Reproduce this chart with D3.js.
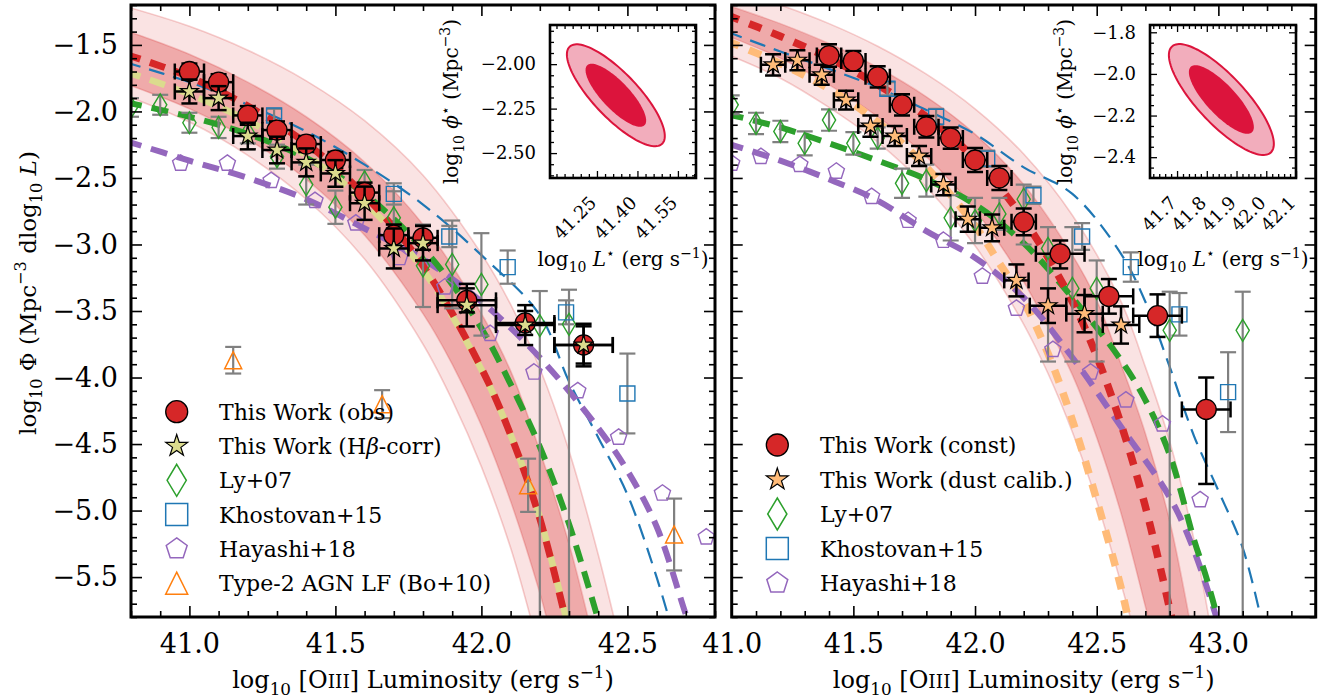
<!DOCTYPE html>
<html><head><meta charset="utf-8">
<script src="https://cdn.jsdelivr.net/npm/d3@7"></script>
<style>
html,body{margin:0;padding:0;background:#fff;}
svg{display:block;}
</style></head>
<body>
<svg id="chart" width="1330" height="699"></svg>
<script>
// ======================= DATA =======================
// ---- shared axis ticks ----
const yMajorTicks = [-1.5,-2.0,-2.5,-3.0,-3.5,-4.0,-4.5,-5.0,-5.5];
const xMajorTicksLeft = [41.0,41.5,42.0,42.5];
const xMajorTicksRight = [41.0,41.5,42.0,42.5,43.0];

// ---- LEFT panel: This Work (obs) and (Hbeta-corr) ----
const obsL       = [41.0,41.1,41.2,41.3,41.4,41.5,41.6,41.7,41.8,41.95,42.15,42.35];
const obsLogPhi  = [-1.70,-1.78,-2.03,-2.14,-2.245,-2.365,-2.61,-2.93,-2.95,-3.42,-3.59,-3.755];
const obsErr     = [0.06,0.06,0.07,0.065,0.06,0.06,0.075,0.08,0.09,0.09,0.09,0.14];
const obsLErr    = [0.05,0.05,0.05,0.05,0.05,0.05,0.05,0.05,0.05,0.1,0.1,0.1];
const hbLogPhi   = [-1.85,-1.90,-2.185,-2.29,-2.383,-2.466,-2.69,-3.03,-2.99,-3.456,-3.606,-3.756];
const hbErr      = [0.09,0.09,0.10,0.10,0.105,0.10,0.125,0.15,0.13,0.16,0.15,0.16];

// ---- LEFT panel: literature ----
const ly07L_left   = [40.8,40.9,41.0,41.1,41.2,41.3,41.4,41.5,41.6,41.7,41.8,41.9,42.0,42.2,42.3];
const ly07Phi_left = [-1.97,-1.95,-2.085,-2.12,-2.16,-2.34,-2.55,-2.72,-2.53,-2.80,-3.16,-3.15,-3.30,-3.61,-3.60];
const ly07Up_left  = [0.07,0.075,0.075,0.08,0.08,0.09,0.15,0.125,0.09,0.2,0.31,0.33,0.385,0.26,0.26];
const ly07Dn_left  = [0.07,0.075,0.075,0.08,0.08,0.09,0.15,0.125,0.09,0.2,0.31,0.33,0.385,3.0,3.0];
const kh15L_left   = [41.29,41.70,41.89,42.09,42.29,42.50];
const kh15Phi_left = [-2.03,-2.62,-2.94,-3.17,-3.51,-4.12];
const kh15Err_left = [0.05,0.08,0.08,0.125,0.09,0.30];
const hy18L_left   = [40.97,41.13,41.28,41.43,41.57,41.72,41.875,42.03,42.18,42.33,42.47,42.62,42.77];
const hy18Phi_left = [-2.39,-2.39,-2.52,-2.67,-2.84,-3.10,-3.32,-3.67,-3.96,-4.10,-4.45,-4.87,-5.20];
const bo10L   = [41.15,41.66,42.16,42.66];
const bo10Phi = [-3.87,-4.20,-4.81,-5.18];
const bo10Err = [0.10,0.105,0.20,0.27];

// ---- LEFT panel: fitted curves ----
const fitObsL_left   = [40.78,41.0,41.2,41.4,41.6,41.8,42.0,42.1,42.2,42.3];
const fitObsPhi_left = [-1.57,-1.74,-1.96,-2.24,-2.63,-3.16,-3.93,-4.43,-5.06,-5.92];
const fitHbL_left    = [40.78,41.0,41.2,41.4,41.6,41.8,42.0,42.1,42.2,42.3];
const fitHbPhi_left  = [-1.70,-1.87,-2.07,-2.33,-2.68,-3.19,-3.94,-4.43,-5.05,-5.90];
const fitLyL_left    = [40.78,41.0,41.2,41.4,41.6,41.8,41.9,42.0,42.1,42.2,42.3,42.4];
const fitLyPhi_left  = [-1.93,-2.04,-2.17,-2.35,-2.62,-3.03,-3.30,-3.63,-4.05,-4.52,-5.10,-5.82];
const fitKhL_left    = [40.78,41.0,41.2,41.4,41.6,41.8,42.0,42.2,42.3,42.4,42.5,42.6,42.66];
const fitKhPhi_left  = [-1.63,-1.78,-1.95,-2.15,-2.40,-2.70,-3.08,-3.53,-4.03,-4.45,-4.88,-5.50,-5.95];
const fitHyL_left    = [40.78,41.0,41.2,41.4,41.6,41.8,42.0,42.2,42.4,42.5,42.6,42.7,42.75];
const fitHyPhi_left  = [-2.22,-2.37,-2.50,-2.66,-2.88,-3.11,-3.43,-3.85,-4.38,-4.70,-5.12,-5.78,-6.10];
// uncertainty bands (outer = light, inner = dark)
const bandOutTopL_left = [40.78,41.0,41.2,41.4,41.6,41.8,42.0,42.1,42.2,42.3,42.4,42.47];
const bandOutTopV_left = [-1.21,-1.36,-1.54,-1.77,-2.07,-2.48,-3.07,-3.45,-3.93,-4.55,-5.33,-5.95];
const bandOutBotL_left = [40.78,41.0,41.2,41.4,41.6,41.8,41.9,42.0,42.1,42.18];
const bandOutBotV_left = [-1.88,-2.08,-2.33,-2.66,-3.11,-3.75,-4.17,-4.67,-5.28,-5.90];
const bandInTopL_left  = [40.78,41.0,41.2,41.4,41.6,41.8,42.0,42.1,42.2,42.3,42.37];
const bandInTopV_left  = [-1.39,-1.57,-1.78,-2.04,-2.38,-2.85,-3.52,-3.95,-4.55,-5.25,-5.85];
const bandInBotL_left  = [40.78,41.0,41.2,41.4,41.6,41.8,41.9,42.0,42.1,42.2,42.24];
const bandInBotV_left  = [-1.79,-1.98,-2.21,-2.51,-2.93,-3.52,-3.90,-4.36,-4.93,-5.62,-5.95];

// ---- RIGHT panel: This Work (const) and (dust calib.) ----
const constL      = [41.4,41.5,41.6,41.7,41.8,41.9,42.0,42.1,42.2,42.35,42.55,42.75,42.95];
const constLogPhi = [-1.58,-1.62,-1.74,-1.95,-2.115,-2.20,-2.365,-2.50,-2.83,-3.07,-3.39,-3.535,-4.24];
const constErrUp  = [0.085,0.075,0.08,0.08,0.08,0.08,0.09,0.09,0.10,0.10,0.13,0.16,0.24];
const constErrDn  = [0.085,0.075,0.08,0.08,0.08,0.08,0.09,0.09,0.10,0.11,0.13,0.16,0.56];
const constLErr   = [0.05,0.05,0.05,0.05,0.05,0.05,0.05,0.05,0.05,0.1,0.1,0.1,0.1];
const dustL       = [41.17,41.27,41.37,41.47,41.57,41.67,41.77,41.87,41.97,42.07,42.17,42.30,42.45,42.60];
const dustLogPhi  = [-1.65,-1.615,-1.725,-1.915,-2.11,-2.185,-2.335,-2.55,-2.81,-2.875,-3.27,-3.46,-3.52,-3.605];
const dustErr     = [0.08,0.075,0.075,0.07,0.08,0.075,0.075,0.08,0.095,0.10,0.12,0.13,0.14,0.14];
const dustLErr    = [0.05,0.05,0.05,0.05,0.05,0.05,0.05,0.05,0.05,0.05,0.05,0.075,0.075,0.075];

// ---- RIGHT panel: literature ----
const ly07L_right   = [41.0,41.1,41.2,41.3,41.4,41.5,41.6,41.7,41.8,41.9,42.0,42.1,42.2,42.3,42.4,42.5,42.8,43.1];
const ly07Phi_right = [-1.95,-2.09,-2.15,-2.24,-2.065,-2.24,-2.20,-2.54,-2.52,-2.80,-2.82,-2.77,-2.66,-3.03,-3.33,-3.33,-3.645,-3.645];
const ly07Up_right  = [0.07,0.08,0.08,0.09,0.08,0.085,0.08,0.11,0.12,0.17,0.17,0.12,0.11,0.16,0.46,0.21,0.29,0.29];
const ly07Dn_right  = [0.07,0.08,0.08,0.09,0.08,0.085,0.08,0.11,0.12,0.17,0.17,0.12,0.34,0.85,0.55,0.55,3.0,3.0];
const kh15L_right   = [41.64,41.84,42.05,42.24,42.44,42.64,42.84,43.04];
const kh15Phi_right = [-1.83,-2.04,-2.355,-2.63,-2.94,-3.17,-3.525,-4.11];
const kh15Err_right = [0.05,0.06,0.06,0.065,0.10,0.11,0.16,0.30];
const hy18L_right   = [41.0,41.12,41.28,41.43,41.575,41.725,41.87,42.03,42.17,42.32,42.475,42.62,42.77,42.925];
const hy18Phi_right = [-2.39,-2.34,-2.40,-2.45,-2.64,-2.82,-2.97,-3.24,-3.48,-3.79,-3.96,-4.17,-4.35,-4.92];

// ---- RIGHT panel: fitted curves ----
const fitConstL_right = [40.98,41.2,41.4,41.6,41.8,42.0,42.2,42.4,42.5,42.6,42.7,42.8,42.83];
const fitConstPhi_right = [-1.275,-1.435,-1.60,-1.80,-2.04,-2.36,-2.81,-3.43,-3.84,-4.35,-4.97,-5.74,-6.0];
const fitDustL_right  = [40.98,41.2,41.4,41.6,41.8,42.0,42.1,42.2,42.3,42.4,42.5,42.6,42.64];
const fitDustPhi_right= [-1.47,-1.64,-1.83,-2.08,-2.42,-2.86,-3.14,-3.43,-3.82,-4.32,-4.92,-5.58,-5.90];
const fitLyL_right    = [40.98,41.2,41.4,41.6,41.8,42.0,42.2,42.4,42.6,42.7,42.8,42.9,42.95,43.01];
const fitLyPhi_right  = [-2.02,-2.12,-2.24,-2.37,-2.51,-2.70,-2.99,-3.40,-3.87,-4.17,-4.58,-5.22,-5.50,-5.90];
const fitKhL_right    = [40.98,41.2,41.4,41.6,41.8,42.0,42.2,42.4,42.6,42.7,42.8,42.9,43.0,43.1,43.18];
const fitKhPhi_right  = [-1.40,-1.55,-1.68,-1.82,-1.99,-2.17,-2.42,-2.62,-3.07,-3.43,-3.92,-4.44,-4.85,-5.28,-5.85];
const fitHyL_right    = [40.98,41.2,41.4,41.6,41.8,42.0,42.2,42.4,42.6,42.8,42.9,43.0];
const fitHyPhi_right  = [-2.24,-2.37,-2.51,-2.67,-2.90,-3.10,-3.40,-3.85,-4.37,-4.90,-5.30,-5.85];
const bandOutTopL_right = [40.98,41.2,41.4,41.6,41.8,42.0,42.2,42.4,42.6,42.7,42.8,42.9,42.97];
const bandOutTopV_right = [-1.07,-1.20,-1.34,-1.51,-1.72,-1.98,-2.32,-2.78,-3.43,-3.92,-4.48,-5.22,-5.90];
const bandOutBotL_right = [40.98,41.2,41.4,41.6,41.8,42.0,42.2,42.3,42.4,42.5,42.6,42.66];
const bandOutBotV_right = [-1.57,-1.75,-1.97,-2.23,-2.57,-3.01,-3.60,-3.97,-4.41,-4.93,-5.55,-5.95];
const bandInTopL_right  = [40.98,41.2,41.4,41.6,41.8,42.0,42.2,42.4,42.5,42.6,42.7,42.8,42.89];
const bandInTopV_right  = [-1.20,-1.34,-1.49,-1.67,-1.89,-2.17,-2.55,-3.08,-3.42,-3.90,-4.42,-5.08,-5.90];
const bandInBotL_right  = [40.98,41.2,41.4,41.6,41.8,42.0,42.2,42.3,42.4,42.5,42.6,42.7,42.73];
const bandInBotV_right  = [-1.43,-1.60,-1.80,-2.04,-2.34,-2.74,-3.28,-3.62,-3.98,-4.45,-5.02,-5.72,-5.95];

// ---- Insets: posterior of (log L*, log phi*) ----
const insetLeftXTicks  = [41.25,41.40,41.55];
const insetLeftYTicks  = [-2.00,-2.25,-2.50];
const insetRightXTicks = [41.7,41.8,41.9,42.0,42.1];
const insetRightYTicks = [-1.8,-2.0,-2.2,-2.4];
const postLeft  = {center:[41.32,-2.175], sigma:[0.0741,0.117], rho:-0.80};
const postRight = {center:[41.849,-2.123], sigma:[0.0721,0.1088], rho:-0.80};
const contourLevels = [2.448, 1.515]; // 95% and 68% radii (2D)

// legend labels
const legendLeft  = ["This Work (obs)","This Work (Hβ-corr)","Ly+07","Khostovan+15","Hayashi+18","Type-2 AGN LF (Bo+10)"];
const legendRight = ["This Work (const)","This Work (dust calib.)","Ly+07","Khostovan+15","Hayashi+18"];

// ======================= DRAWING =======================
const FONT = '"DejaVu Serif", "Liberation Serif", serif';
const C = {red:'#d62728', olive:'#dbdb8d', green:'#2ca02c', blue:'#1f77b4', purple:'#9467bd', orange:'#ff7f0e', lorange:'#ffbb78', gray:'#808080'};
const svg = d3.select('#chart');
const defs = svg.append('defs');

const Y_TOP = 5, Y_BOT = 617;
const y = d3.scaleLinear().domain([-5.8,-1.2]).range([Y_BOT, Y_TOP]);
const xL = d3.scaleLinear().domain([40.8,42.8]).range([131,715]);
const xR = d3.scaleLinear().domain([41.0,43.4]).range([731.7,1315.7]);

function minorRange(a,b,step){ const out=[]; const n=Math.round((b-a)/step); for(let i=0;i<=n;i++) out.push(+(a+i*step).toFixed(4)); return out; }

// marker shapes
function shapePath(type, s){
  if(type==='circle') return `M${s},0A${s},${s} 0 1,1 ${-s},0A${s},${s} 0 1,1 ${s},0Z`;
  if(type==='star'){ let p=''; for(let i=0;i<10;i++){ const r=i%2?s*0.382:s; const a=-Math.PI/2+i*Math.PI/5; p+=(i?'L':'M')+(r*Math.cos(a)).toFixed(2)+','+(r*Math.sin(a)).toFixed(2);} return p+'Z'; }
  if(type==='pentagon'){ let p=''; for(let i=0;i<5;i++){ const a=-Math.PI/2+i*2*Math.PI/5; p+=(i?'L':'M')+(s*Math.cos(a)).toFixed(2)+','+(s*Math.sin(a)).toFixed(2);} return p+'Z'; }
  if(type==='diamond'){ const w=s*0.6; return `M0,${-s}L${w},0L0,${s}L${-w},0Z`; }
  if(type==='square') return `M${-s},${-s}H${s}V${s}H${-s}Z`;
  if(type==='triangle') return `M0,${-s}L${s},${s}L${-s},${s}Z`;
}
function marker(g,type,cx,cy,s,fill,stroke,sw){
  g.append('path').attr('d',shapePath(type,s)).attr('transform',`translate(${cx},${cy})`)
    .attr('fill',fill).attr('stroke',stroke).attr('stroke-width',sw);
}
function points(g,x,L,V,type,s,fill,stroke,sw){
  L.forEach((l,i)=>marker(g,type,x(l),y(V[i]),s,fill,stroke,sw));
}
function errbars(g,x,L,V,up,dn,xe,color,lw,cap){
  L.forEach((l,i)=>{
    const cx=x(l), cy=y(V[i]);
    const yt=y(V[i]+up[i]), yb=y(V[i]-dn[i]);
    const ln=(x1,y1,x2,y2)=>g.append('line').attr('x1',x1).attr('y1',y1).attr('x2',x2).attr('y2',y2).attr('stroke',color).attr('stroke-width',lw);
    ln(cx,yt,cx,yb); ln(cx-cap,yt,cx+cap,yt); ln(cx-cap,yb,cx+cap,yb);
    if(xe){ const xa=x(l-xe[i]), xb=x(l+xe[i]); ln(xa,cy,xb,cy); ln(xa,cy-cap,xa,cy+cap); ln(xb,cy-cap,xb,cy+cap); }
  });
}
const lineGen = x => d3.line().x(d=>x(d[0])).y(d=>y(d[1])).curve(d3.curveCatmullRom.alpha(0.5));
function curve(g,x,L,V,color,w,dash){
  g.append('path').attr('d',lineGen(x)(d3.zip(L,V))).attr('fill','none').attr('stroke',color)
    .attr('stroke-width',w).attr('stroke-dasharray',dash);
}
function band(g,x,tL,tV,bL,bV,op){
  const lg=lineGen(x); const top=lg(d3.zip(tL,tV)); const bot=lg(d3.zip(bL,bV).reverse());
  g.append('path').attr('d',top+'L'+bot.slice(1)+'Z').attr('fill',C.red).attr('fill-opacity',op).attr('stroke','none');
  [top, lg(d3.zip(bL,bV))].forEach(d=>g.append('path').attr('d',d).attr('fill','none').attr('stroke',C.red).attr('stroke-opacity',0.22).attr('stroke-width',1.6));
}

function axes(g,x,yy,o){
  const [xa,xb]=x.range(), [yb,ya]=yy.range();
  const st = sel=>{ sel.select('.domain').remove(); sel.attr('font-family',FONT).attr('font-size',o.fs);
    sel.selectAll('line').attr('stroke','#000').attr('stroke-width',o.tw); sel.selectAll('text').attr('fill','#000'); };
  const blank=()=> '';
  const xMin=o.xMinor.filter(v=>!o.xMajor.some(m=>Math.abs(m-v)<1e-6));
  const yMin=o.yMinor.filter(v=>!o.yMajor.some(m=>Math.abs(m-v)<1e-6));
  const b=g.append('g').attr('transform',`translate(0,${yb})`).call(d3.axisBottom(x).tickValues(o.xMajor).tickSize(-o.maj).tickPadding(o.xpad).tickFormat(o.xFmt||blank)).call(st);
  g.append('g').attr('transform',`translate(0,${yb})`).call(d3.axisBottom(x).tickValues(xMin).tickSize(-o.min).tickFormat(blank)).call(st);
  g.append('g').attr('transform',`translate(0,${ya})`).call(d3.axisTop(x).tickValues(o.xMajor).tickSize(-o.maj).tickFormat(blank)).call(st);
  g.append('g').attr('transform',`translate(0,${ya})`).call(d3.axisTop(x).tickValues(xMin).tickSize(-o.min).tickFormat(blank)).call(st);
  g.append('g').attr('transform',`translate(${xa},0)`).call(d3.axisLeft(yy).tickValues(o.yMajor).tickSize(-o.maj).tickPadding(o.ypad).tickFormat(o.yFmt||blank)).call(st);
  g.append('g').attr('transform',`translate(${xa},0)`).call(d3.axisLeft(yy).tickValues(yMin).tickSize(-o.min).tickFormat(blank)).call(st);
  g.append('g').attr('transform',`translate(${xb},0)`).call(d3.axisRight(yy).tickValues(o.yMajor).tickSize(-o.maj).tickFormat(blank)).call(st);
  g.append('g').attr('transform',`translate(${xb},0)`).call(d3.axisRight(yy).tickValues(yMin).tickSize(-o.min).tickFormat(blank)).call(st);
  g.append('rect').attr('x',xa).attr('y',ya).attr('width',xb-xa).attr('height',yb-ya).attr('fill','none').attr('stroke','#000').attr('stroke-width',o.fw);
  return b;
}
function clip(id,x,yy){
  const [xa,xb]=x.range(), [yb,ya]=yy.range();
  defs.append('clipPath').attr('id',id).append('rect').attr('x',xa).attr('y',ya).attr('width',xb-xa).attr('height',yb-ya);
}

// rich text helper: parts = [[text, kind]] kind: n (normal), sub, sup, it, sc
function rich(t, parts, fs){
  const small = fs*0.7;
  let shift=0;
  parts.forEach(([s,k])=>{
    const ts=t.append('tspan').text(s);
    let target=0;
    if(k==='sub'){ ts.attr('font-size',small); target=fs*0.28; }
    else if(k==='sup'){ ts.attr('font-size',small); target=-fs*0.42; }
    else if(k==='it'){ ts.attr('font-style','italic'); }
    else if(k==='sc'){ ts.attr('font-size',fs*0.78); }
    if(target!==shift){ ts.attr('dy',target-shift); shift=target; }
  });
}

// ---------------- panels ----------------
function panel(x, id, cfg){
  clip(id,x,y);
  const g=svg.append('g').attr('clip-path',`url(#${id})`);
  cfg.draw(g,x);
  const o={xMajor:cfg.xMajor, xMinor:minorRange(x.domain()[0],x.domain()[1],0.1), yMajor:yMajorTicks, yMinor:minorRange(-5.8,-1.2,0.1),
    maj:11, min:6, tw:1.6, fw:3, fs:27, xpad:17, ypad:13, xFmt:d3.format('.1f'), yFmt:cfg.yLabels?d3.format('.1f'):null};
  axes(svg.append('g'),x,y,o);
}

panel(xL,'clipL',{xMajor:xMajorTicksLeft, yLabels:true, draw:(g,x)=>{
  band(g,x,bandOutTopL_left,bandOutTopV_left,bandOutBotL_left,bandOutBotV_left,0.13);
  band(g,x,bandInTopL_left,bandInTopV_left,bandInBotL_left,bandInBotV_left,0.30);
  curve(g,x,fitKhL_left,fitKhPhi_left,C.blue,2.2,'16,9');
  curve(g,x,fitHyL_left,fitHyPhi_left,C.purple,6,'17,10');
  curve(g,x,fitLyL_left,fitLyPhi_left,C.green,6,'17,10');
  curve(g,x,fitHbL_left,fitHbPhi_left,C.olive,6.5,'16,10');
  curve(g,x,fitObsL_left,fitObsPhi_left,C.red,7,'16,10');
  errbars(g,x,ly07L_left,ly07Phi_left,ly07Up_left,ly07Dn_left,null,C.gray,2.2,8);
  errbars(g,x,kh15L_left,kh15Phi_left,kh15Err_left,kh15Err_left,null,C.gray,2.2,8);
  errbars(g,x,bo10L,bo10Phi,bo10Err,bo10Err,null,C.gray,2.2,8);
  points(g,x,ly07L_left,ly07Phi_left,'diamond',11,'none',C.green,1.4);
  points(g,x,kh15L_left,kh15Phi_left,'square',7.5,'none',C.blue,1.4);
  points(g,x,hy18L_left,hy18Phi_left,'pentagon',8.5,'none',C.purple,1.4);
  points(g,x,bo10L,bo10Phi,'triangle',8.5,'none',C.orange,1.5);
  errbars(g,x,obsL,obsLogPhi,obsErr,obsErr,obsLErr,'#000',2.5,8);
  points(g,x,obsL,obsLogPhi,'circle',10,C.red,'#000',1.3);
  errbars(g,x,obsL,hbLogPhi,hbErr,hbErr,obsLErr,'#000',2.5,8);
  points(g,x,obsL,hbLogPhi,'star',9.5,C.olive,'#000',1.2);
}});

panel(xR,'clipR',{xMajor:xMajorTicksRight, yLabels:false, draw:(g,x)=>{
  band(g,x,bandOutTopL_right,bandOutTopV_right,bandOutBotL_right,bandOutBotV_right,0.13);
  band(g,x,bandInTopL_right,bandInTopV_right,bandInBotL_right,bandInBotV_right,0.30);
  curve(g,x,fitKhL_right,fitKhPhi_right,C.blue,2.2,'16,9');
  curve(g,x,fitDustL_right,fitDustPhi_right,C.lorange,7.5,'13,11');
  curve(g,x,fitHyL_right,fitHyPhi_right,C.purple,6,'17,10');
  curve(g,x,fitLyL_right,fitLyPhi_right,C.green,6,'17,10');
  curve(g,x,fitConstL_right,fitConstPhi_right,C.red,7.5,'13,11');
  errbars(g,x,ly07L_right,ly07Phi_right,ly07Up_right,ly07Dn_right,null,C.gray,2.2,8);
  errbars(g,x,kh15L_right,kh15Phi_right,kh15Err_right,kh15Err_right,null,C.gray,2.2,8);
  points(g,x,ly07L_right,ly07Phi_right,'diamond',11,'none',C.green,1.4);
  points(g,x,kh15L_right,kh15Phi_right,'square',7.5,'none',C.blue,1.4);
  points(g,x,hy18L_right,hy18Phi_right,'pentagon',8.5,'none',C.purple,1.4);
  errbars(g,x,dustL,dustLogPhi,dustErr,dustErr,dustLErr,'#000',2.5,8);
  points(g,x,dustL,dustLogPhi,'star',9.5,C.lorange,'#000',1.2);
  errbars(g,x,constL,constLogPhi,constErrUp,constErrDn,constLErr,'#000',2.5,8);
  points(g,x,constL,constLogPhi,'circle',10,C.red,'#000',1.3);
}});

// ---------------- legends ----------------
function legend(x0,y0,step,tx,labels,styles){
  const g=svg.append('g');
  labels.forEach((lab,i)=>{
    const s=styles[i], cy=y0+i*step;
    marker(g,s[0],x0,cy,s[1],s[2],s[3],s[4]);
    const t=g.append('text').attr('x',tx).attr('y',cy+8).attr('font-family',FONT).attr('font-size',22).attr('fill','#000');
    if(lab.includes('β')){ const [a,b]=lab.split('β'); rich(t,[[a,'n'],['β','it'],[b,'n']],22); } else t.text(lab);
  });
}
legend(176.7,411.7,34.3,219,legendLeft,[
  ['circle',11,C.red,'#000',1.3],['star',11.5,C.olive,'#000',1.2],['diamond',16,'none',C.green,1.5],
  ['square',11,'none',C.blue,1.5],['pentagon',11,'none',C.purple,1.5],['triangle',11,'none',C.orange,1.5]]);
legend(777.3,445,34.5,820,legendRight,[
  ['circle',11,C.red,'#000',1.3],['star',11.5,C.lorange,'#000',1.2],['diamond',16,'none',C.green,1.5],
  ['square',11,'none',C.blue,1.5],['pentagon',11,'none',C.purple,1.5]]);

// ---------------- axis labels ----------------
function xLabel(cx){
  const t=svg.append('text').attr('x',cx).attr('y',688).attr('text-anchor','middle').attr('font-family',FONT).attr('font-size',24).attr('fill','#000');
  rich(t,[['log','n'],['10','sub'],[' [O','n'],['III','sc'],['] Luminosity (erg s','n'],['−1','sup'],[')','n']],24);
}
xLabel(423); xLabel(1023.7);
{
  const t=svg.append('text').attr('transform','translate(36,293) rotate(-90)').attr('text-anchor','middle').attr('font-family',FONT).attr('font-size',23).attr('fill','#000');
  rich(t,[['log','n'],['10','sub'],[' Φ (Mpc','n'],['−3','sup'],[' dlog','n'],['10','sub'],[' ','n'],['L','it'],[')','n']],23);
}

// ---------------- insets ----------------
function inset(box, xDom, yDom, xTicks, yTicks, xMinorStep, yMinorStep, fmt, post, ylabX){
  const x=d3.scaleLinear().domain(xDom).range([box[0],box[1]]);
  const yy=d3.scaleLinear().domain(yDom).range([box[3],box[2]]);
  svg.append('rect').attr('x',box[0]).attr('y',box[2]).attr('width',box[1]-box[0]).attr('height',box[3]-box[2]).attr('fill','#fff');
  const id='clip'+box[0];
  defs.append('clipPath').attr('id',id).append('rect').attr('x',box[0]).attr('y',box[2]).attr('width',box[1]-box[0]).attr('height',box[3]-box[2]);
  const g=svg.append('g').attr('clip-path',`url(#${id})`);
  const [cL,cP]=post.center,[sL,sP]=post.sigma, r=post.rho;
  contourLevels.forEach((k,j)=>{
    const pts=d3.range(0,361,3).map(a=>{const t=a*Math.PI/180, u=Math.cos(t), v=Math.sin(t);
      return [x(cL+k*sL*u), yy(cP+k*(r*sP*u+sP*Math.sqrt(1-r*r)*v))];});
    g.append('path').attr('d',d3.line()(pts)+'Z').attr('fill',j===0?'#f2adbc':'#dc143c')
      .attr('stroke',j===0?'#dc143c':'none').attr('stroke-width',2);
  });
  const k0=Math.ceil((yDom[0]-yTicks[0])/yMinorStep), k1=Math.floor((yDom[1]-yTicks[0])/yMinorStep);
  const yMinor=d3.range(k0,k1+1).map(k=>+(yTicks[0]+k*yMinorStep).toFixed(4));
  const xm=minorRange(xTicks[0]-Math.floor((xTicks[0]-xDom[0])/xMinorStep)*xMinorStep, xDom[1], xMinorStep);
  const o={xMajor:xTicks, xMinor:xm, yMajor:yTicks, yMinor:yMinor, maj:7, min:4, tw:1.3, fw:2.6, fs:18, xpad:6, ypad:14,
    xFmt:d3.format(fmt[0]), yFmt:d3.format(fmt[1])};
  const b=axes(svg.append('g'),x,yy,o);
  b.selectAll('text').attr('y',0).attr('dy',0).attr('text-anchor','end').attr('transform','translate(0,26) rotate(-45)');
  const t1=svg.append('text').attr('transform',`translate(${ylabX},${(box[2]+box[3])/2}) rotate(-90)`).attr('text-anchor','middle')
    .attr('font-family',FONT).attr('font-size',20).attr('fill','#000');
  rich(t1,[['log','n'],['10','sub'],[' ','n'],['ϕ','it'],['⋆','sup'],[' (Mpc','n'],['−3','sup'],[')','n']],20);
  const t2=svg.append('text').attr('x',(box[0]+box[1])/2).attr('y',266).attr('text-anchor','middle')
    .attr('font-family',FONT).attr('font-size',20).attr('fill','#000');
  rich(t2,[['log','n'],['10','sub'],[' ','n'],['L','it'],['⋆','sup'],[' (erg s','n'],['−1','sup'],[')','n']],20);
}
inset([550,696,25,178],[41.076,41.617],[-2.64,-1.78],insetLeftXTicks,insetLeftYTicks,0.03,0.0625,['.2f','.2f'],postLeft,458);
inset([1150,1296,25,178],[41.609,42.1],[-2.50,-1.765],insetRightXTicks,insetRightYTicks,0.02,0.05,['.1f','.1f'],postRight,1072);
</script>
</body></html>
